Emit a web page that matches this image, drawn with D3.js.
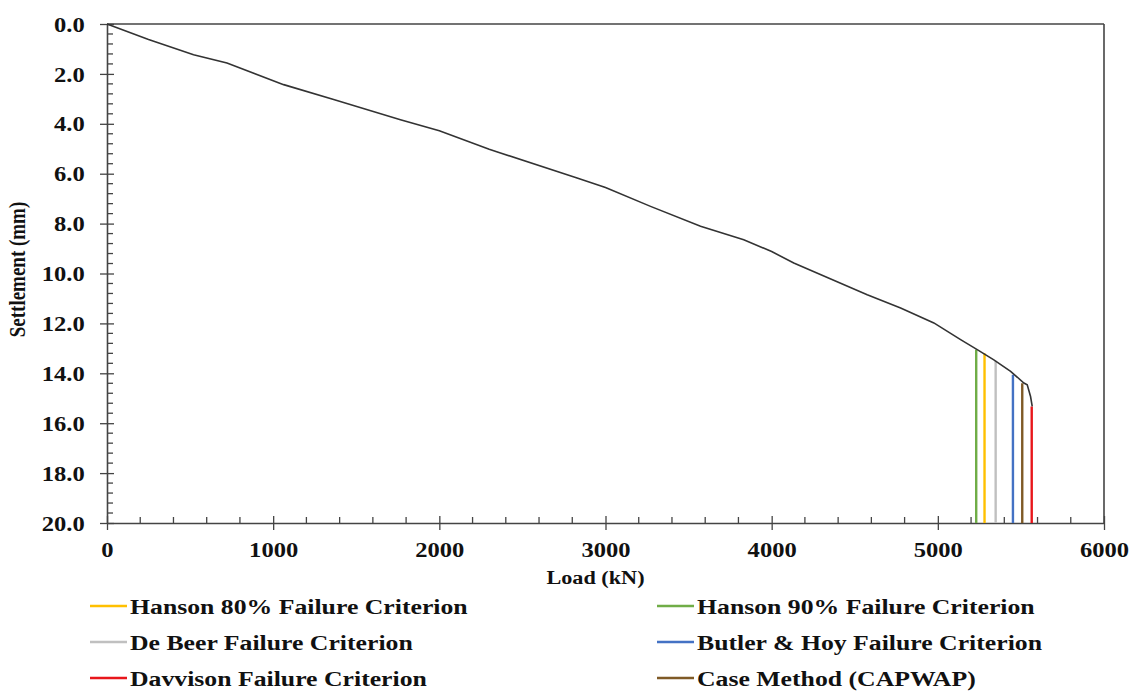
<!DOCTYPE html>
<html>
<head>
<meta charset="utf-8">
<script src="https://cdn.jsdelivr.net/npm/d3@7"></script>
</head>
<body style="margin:0;padding:0;background:#fff">
<svg id="chart" width="1132" height="691"></svg>
<script>
// Load–settlement curve from the static load test
const loadKN = [0, 250, 521, 722, 1063, 1364, 1766, 2000, 2300, 2368, 2829, 3000, 3271, 3572, 3832, 4000, 4133, 4575, 4776, 4976, 5137, 5237, 5337, 5438, 5518, 5538, 5558, 5568];
const settlementMM = [0, 0.62, 1.23, 1.56, 2.43, 3.03, 3.84, 4.28, 5.02, 5.17, 6.17, 6.55, 7.31, 8.11, 8.65, 9.12, 9.58, 10.85, 11.38, 11.98, 12.65, 13.05, 13.46, 13.92, 14.39, 14.46, 14.93, 15.33];

// Ultimate capacity from each interpretation method (kN) and where it meets the curve (mm)
const criteria = ["Hanson 80% Failure Criterion", "Hanson 90% Failure Criterion", "De Beer Failure Criterion", "Butler & Hoy Failure Criterion", "Davvison Failure Criterion", "Case Method (CAPWAP)"];
const criteriaLoad = [5281, 5231, 5348, 5452, 5565, 5508];
const criteriaSettlement = [13.2, 13.05, 13.5, 14.06, 15.33, 14.4];
const criteriaColor = ["#ffc000", "#70ad47", "#c0c0c0", "#4472c4", "#e8161b", "#7f5a26"];

const xTicks = [0, 1000, 2000, 3000, 4000, 5000, 6000];
const yTicks = [0, 2, 4, 6, 8, 10, 12, 14, 16, 18, 20];

const FONT = "'Liberation Serif', 'Times New Roman', serif";
const svg = d3.select("#chart");
const m = { left: 107, right: 28, top: 24, bottom: 168 };
const W = 1132, H = 691;
const x = d3.scaleLinear().domain([0, 6000]).range([m.left, W - m.right]);
const y = d3.scaleLinear().domain([0, 20]).range([m.top, H - m.bottom]);
const axisColor = "#444";
const WIDEN = 1.17; // horizontal widening of the lettering

function styleText(sel, size) {
  sel.style("font-family", FONT).style("font-weight", "700")
    .style("font-size", size + "px").style("fill", "#111");
}

// frame: top and right edges
svg.append("line").attr("x1", x(0)).attr("x2", x(6000)).attr("y1", y(0)).attr("y2", y(0))
  .attr("stroke", axisColor).attr("stroke-width", 1.6);
svg.append("line").attr("x1", x(6000)).attr("x2", x(6000)).attr("y1", y(0)).attr("y2", y(20))
  .attr("stroke", axisColor).attr("stroke-width", 1.6);

// minor ticks (inside)
const xMinor = d3.range(0, 6001, 200).filter(v => v % 1000 !== 0);
const yMinor = d3.range(0, 20.01, 0.4).filter(v => Math.abs(v / 2 - Math.round(v / 2)) > 1e-6);
svg.append("g").selectAll("line").data(xMinor).join("line")
  .attr("x1", d => x(d)).attr("x2", d => x(d)).attr("y1", y(20)).attr("y2", y(20) - 6)
  .attr("stroke", axisColor).attr("stroke-width", 1.3);
svg.append("g").selectAll("line").data(yMinor).join("line")
  .attr("x1", x(0)).attr("x2", x(0) + 6).attr("y1", d => y(d)).attr("y2", d => y(d))
  .attr("stroke", axisColor).attr("stroke-width", 1.3);

// x axis
const gx = svg.append("g").attr("transform", `translate(0,${y(20)})`)
  .call(d3.axisBottom(x).tickValues(xTicks).tickFormat(d3.format("d")).tickSizeInner(7).tickSizeOuter(0).tickPadding(10));
gx.selectAll(".tick line").attr("y1", -7).attr("stroke", axisColor).attr("stroke-width", 1.3);
gx.select(".domain").attr("stroke", axisColor).attr("stroke-width", 1.6);
gx.selectAll("text").call(styleText, 21)
  .attr("transform", `scale(${WIDEN},1)`).attr("dy", "0.8em");

// y axis
const gy = svg.append("g").attr("transform", `translate(${x(0)},0)`)
  .call(d3.axisLeft(y).tickValues(yTicks).tickFormat(d3.format(".1f")).tickSizeInner(7).tickSizeOuter(0).tickPadding(12));
gy.selectAll(".tick line").attr("x1", 7).attr("stroke", axisColor).attr("stroke-width", 1.3);
gy.select(".domain").attr("stroke", axisColor).attr("stroke-width", 1.6);
gy.selectAll("text").call(styleText, 21)
  .attr("transform", `scale(${WIDEN},1)`).attr("dy", "0.34em");

// axis titles
svg.append("text").attr("transform", `translate(${(x(0) + x(6000)) / 2 - 10},584) scale(${WIDEN},1)`)
  .attr("text-anchor", "middle").call(styleText, 19).text("Load (kN)");
svg.append("text").attr("transform", `translate(25,${(y(0) + y(20)) / 2 - 4}) scale(${WIDEN},1) rotate(-90)`)
  .attr("text-anchor", "middle").call(styleText, 19).text("Settlement (mm)");

// failure criterion markers
const marks = criteria.map((c, i) => ({ name: c, load: criteriaLoad[i], s: criteriaSettlement[i], color: criteriaColor[i] }));
svg.append("g").selectAll("line").data(marks).join("line")
  .attr("x1", d => x(d.load)).attr("x2", d => x(d.load))
  .attr("y1", d => y(d.s)).attr("y2", y(20))
  .attr("stroke", d => d.color).attr("stroke-width", 2.4);

// load–settlement curve
const pts = loadKN.map((v, i) => [v, settlementMM[i]]);
svg.append("path").datum(pts)
  .attr("d", d3.line().x(d => x(d[0])).y(d => y(d[1])))
  .attr("fill", "none").attr("stroke", "#333").attr("stroke-width", 1.6);

// legend
const legendPos = [[90, 606], [657, 606], [90, 642], [657, 642], [90, 678], [657, 678]];
const lg = svg.append("g").selectAll("g").data(marks).join("g")
  .attr("transform", (d, i) => `translate(${legendPos[i][0]},${legendPos[i][1]})`);
lg.append("line").attr("x1", 0).attr("x2", 37).attr("y1", 0).attr("y2", 0)
  .attr("stroke", d => d.color).attr("stroke-width", 2.4);
lg.append("text").attr("transform", `translate(40,7.5) scale(${WIDEN},1)`)
  .call(styleText, 22).text(d => d.name);
</script>
</body>
</html>
